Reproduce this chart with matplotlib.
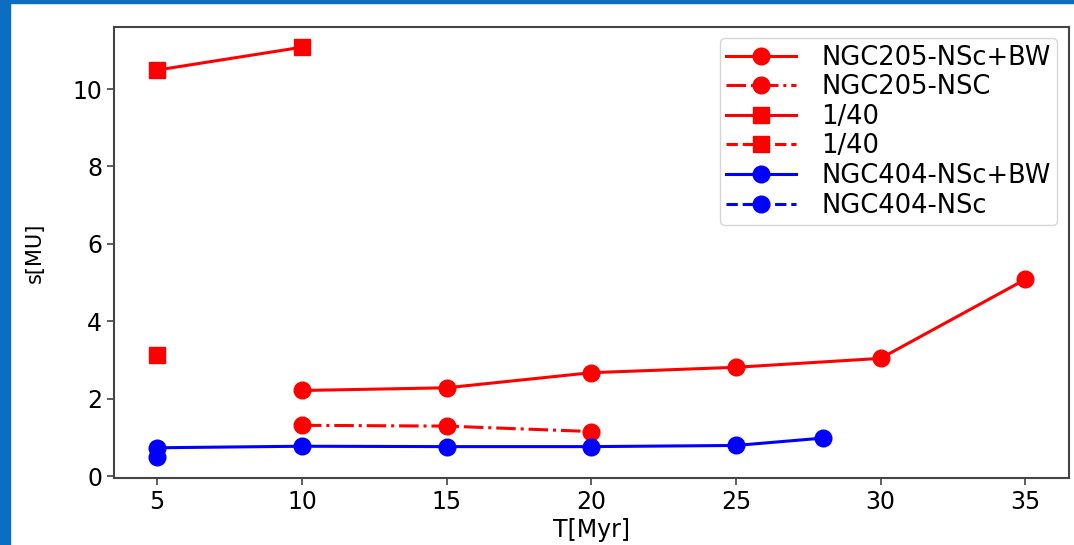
import matplotlib.pyplot as plt
from matplotlib.patches import Rectangle

# s[MU] vs time for the two galaxies
t_205_bw = [10, 15, 20, 25, 30, 35]
s_205_bw = [2.21, 2.28, 2.67, 2.81, 3.04, 5.08]

t_205 = [10, 15, 20]
s_205 = [1.31, 1.29, 1.15]

t_140_bw = [5, 10]
s_140_bw = [10.49, 11.08]

t_140 = [5]
s_140 = [3.12]

t_404_bw = [5, 10, 15, 20, 25, 28]
s_404_bw = [0.73, 0.77, 0.76, 0.76, 0.79, 0.98]

t_404 = [5]
s_404 = [0.48]

fontsize = 17

fig = plt.figure(figsize=(10.74, 5.45), dpi=100)
ax = fig.add_axes([0.106, 0.123, 0.889, 0.828])

ax.plot(t_205_bw, s_205_bw, "r-", marker="o", markersize=12, linewidth=2.2, label="NGC205-NSc+BW")
ax.plot(t_205, s_205, "r-.", marker="o", markersize=12, linewidth=2.2, label="NGC205-NSC")
ax.plot(t_140_bw, s_140_bw, "r-", marker="s", markersize=12, linewidth=2.2, label="1/40")
ax.plot(t_140, s_140, "r--", marker="s", markersize=12, linewidth=2.2, label="1/40")
ax.plot(t_404_bw, s_404_bw, "b-", marker="o", markersize=12, linewidth=2.2, label="NGC404-NSc+BW")
ax.plot(t_404, s_404, "b--", marker="o", markersize=12, linewidth=2.2, label="NGC404-NSc")

ax.set_xticks([5, 10, 15, 20, 25, 30, 35])
ax.set_yticks([0, 2, 4, 6, 8, 10])
ax.tick_params(axis="both", labelsize=fontsize, length=5, width=1.2, color="#444444")
for sp in ax.spines.values():
    sp.set_linewidth(1.5)
    sp.set_color("#444444")
ax.set_xlabel("T[Myr]", fontsize=17, labelpad=3)
ax.set_ylabel("s[MU]", fontsize=15, labelpad=20)
ax.legend(loc="upper right", fontsize=18.5, handlelength=2.7, handletextpad=1.0,
          labelspacing=0.14, borderaxespad=0.45, borderpad=0.25)

# blue frame on the left and top edges
fig.patches.append(Rectangle((0, 0), 0.0095, 1, transform=fig.transFigure, color="#0a6fc2", zorder=5))
fig.patches.append(Rectangle((0, 0.994), 1, 0.006, transform=fig.transFigure, color="#0a6fc2", zorder=5))

fig.savefig("out.png", dpi=100)
